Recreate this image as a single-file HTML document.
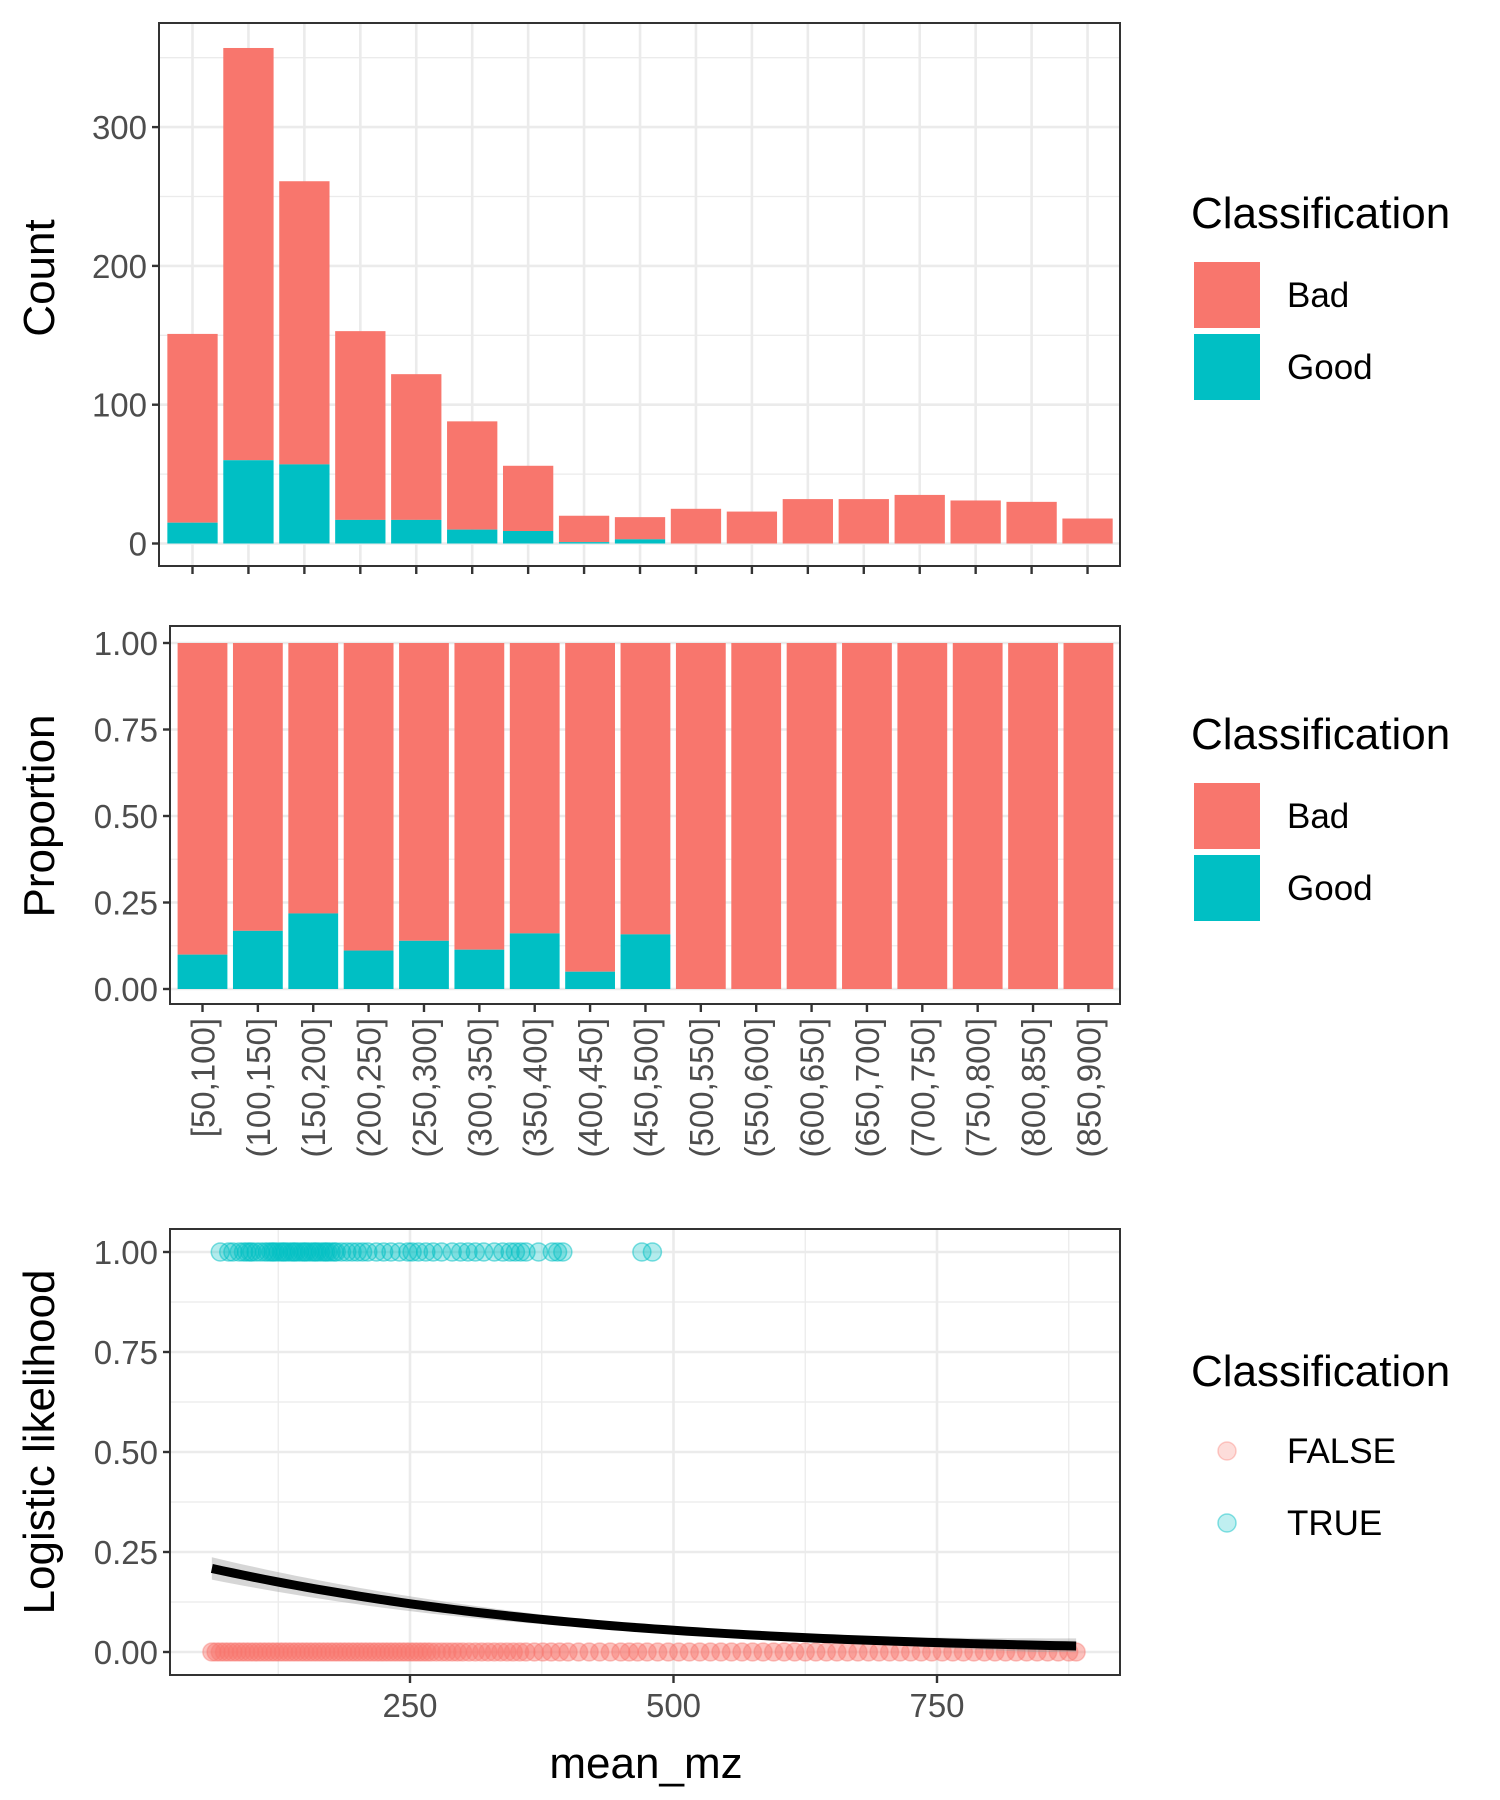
<!DOCTYPE html>
<html><head><meta charset="utf-8"><style>
html,body{margin:0;padding:0;background:#fff;}
svg{display:block;font-family:"Liberation Sans",sans-serif;}
</style></head><body>
<svg id="chart" width="1500" height="1800" viewBox="0 0 1500 1800"></svg>
<script>
const bins=["[50,100]","(100,150]","(150,200]","(200,250]","(250,300]","(300,350]","(350,400]","(400,450]","(450,500]","(500,550]","(550,600]","(600,650]","(650,700]","(700,750]","(750,800]","(800,850]","(850,900]"];
const totalCounts=[151,357,261,153,122,88,56,20,19,25,23,32,32,35,31,30,18];
const goodCounts=[15,60,57,17,17,10,9,1,3,0,0,0,0,0,0,0,0];
const countTicks=[0,100,200,300];
const propTicks=[0,0.25,0.5,0.75,1];
const propTickLabels=["0.00","0.25","0.50","0.75","1.00"];
const mzTicks=[250,500,750];
const trueX=[70,78,82,88,92,95,98,100,104,108,112,115,118,120,122,125,128,130,132,135,138,140,142,145,148,150,152,155,158,160,162,165,168,170,172,175,178,180,185,190,195,200,205,210,218,225,232,240,248,252,258,265,272,280,290,298,305,312,320,330,338,345,350,355,360,372,385,390,395,470,480];
const falseX=[62,66,70,74,78,82,86,90,94,98,102,106,110,114,118,122,126,130,134,138,142,146,150,154,158,162,166,170,174,178,182,186,190,194,198,202,206,210,214,218,222,226,230,234,238,242,246,250,254,258,262,266,270,275,280,285,290,295,300,306,312,318,324,330,336,342,348,354,360,368,376,384,392,400,410,420,430,440,450,458,466,475,485,495,505,515,525,535,545,555,565,575,585,595,605,615,625,635,645,655,665,675,685,695,705,715,725,735,745,755,765,775,785,795,805,815,825,835,845,855,865,875,882];
const coefA=-1.116, coefB=-0.00348;

const NS="http://www.w3.org/2000/svg";
const svg=document.getElementById('chart');
function el(tag,attrs,parent,text){const e=document.createElementNS(NS,tag);for(const k in attrs)e.setAttribute(k,attrs[k]);if(text!==undefined)e.textContent=text;(parent||svg).appendChild(e);return e;}
const RED="#F8766D",TEAL="#00BFC4",GRID="#EBEBEB",TXT="#4D4D4D";
const TF=33, TO=12;

// ===== Panel 1 =====
const p1={l:159,r:1120,t:23,b:566};
const xb1=i=>192.5+i*55.94;
const y1=v=>543.5-v*1.388;
let g=el('g',{},svg);
[50,150,250,350].forEach(v=>el('line',{x1:p1.l,x2:p1.r,y1:y1(v),y2:y1(v),stroke:GRID,'stroke-width':1.3},g));
countTicks.forEach(v=>el('line',{x1:p1.l,x2:p1.r,y1:y1(v),y2:y1(v),stroke:GRID,'stroke-width':2.6},g));
bins.forEach((b,i)=>el('line',{x1:xb1(i),x2:xb1(i),y1:p1.t,y2:p1.b,stroke:GRID,'stroke-width':2.6},g));
bins.forEach((b,i)=>{
  const w=50.3,x=xb1(i)-w/2;
  let r=el('rect',{x:x,y:y1(totalCounts[i]),width:w,height:y1(goodCounts[i])-y1(totalCounts[i]),fill:RED},g);
  
  if(goodCounts[i]>0){let r2=el('rect',{x:x,y:y1(goodCounts[i]),width:w,height:y1(0)-y1(goodCounts[i]),fill:TEAL},g);
  }
  el('line',{x1:xb1(i),x2:xb1(i),y1:p1.b,y2:p1.b+8,stroke:'#333','stroke-width':2.4},g);
});
el('rect',{x:p1.l,y:p1.t,width:p1.r-p1.l,height:p1.b-p1.t,fill:'none',stroke:'#333','stroke-width':2},g);
countTicks.forEach(v=>{el('line',{x1:p1.l-7,x2:p1.l,y1:y1(v),y2:y1(v),stroke:'#333','stroke-width':2.4},g);
  el('text',{x:p1.l-12,y:y1(v)+TO,'text-anchor':'end','font-size':TF,fill:TXT},g,String(v));});
let t=el('text',{x:0,y:0,transform:'translate(54,278) rotate(-90)','text-anchor':'middle','font-size':44,fill:'#000'},svg,'Count');


// ===== Panel 2 =====
const p2={l:170,r:1120,t:626,b:1004};
const xb2=i=>202.5+i*55.37;
const y2=v=>989-v*346;
g=el('g',{},svg);
[0.125,0.375,0.625,0.875].forEach(v=>el('line',{x1:p2.l,x2:p2.r,y1:y2(v),y2:y2(v),stroke:GRID,'stroke-width':1.3},g));
propTicks.forEach(v=>el('line',{x1:p2.l,x2:p2.r,y1:y2(v),y2:y2(v),stroke:GRID,'stroke-width':2.6},g));
bins.forEach((b,i)=>{
  const w=49.8,x=xb2(i)-w/2,p=goodCounts[i]/totalCounts[i];
  let r=el('rect',{x:x,y:y2(1),width:w,height:y2(p)-y2(1),fill:RED},g);
  
  if(p>0){let r2=el('rect',{x:x,y:y2(p),width:w,height:y2(0)-y2(p),fill:TEAL},g);
  }
  el('line',{x1:xb2(i),x2:xb2(i),y1:p2.b,y2:p2.b+8,stroke:'#333','stroke-width':2.4},g);
  let lt=el('text',{x:0,y:0,transform:`translate(${xb2(i)+12},1018) rotate(-90)`,'text-anchor':'end','font-size':TF,fill:TXT},g,b);
  
});
el('rect',{x:p2.l,y:p2.t,width:p2.r-p2.l,height:p2.b-p2.t,fill:'none',stroke:'#333','stroke-width':2},g);
propTicks.forEach((v,i)=>{el('line',{x1:p2.l-7,x2:p2.l,y1:y2(v),y2:y2(v),stroke:'#333','stroke-width':2.4},g);
  el('text',{x:p2.l-12,y:y2(v)+TO,'text-anchor':'end','font-size':TF,fill:TXT},g,propTickLabels[i]);});
t=el('text',{x:0,y:0,transform:'translate(54,816) rotate(-90)','text-anchor':'middle','font-size':44,fill:'#000'},svg,'Proportion');


// ===== Panel 3 =====
const p3={l:170,r:1120,t:1229,b:1675};
const x3=v=>146.5+v*1.054;
const y3=v=>1652-v*400;
g=el('g',{},svg);
[0.125,0.375,0.625,0.875].forEach(v=>el('line',{x1:p3.l,x2:p3.r,y1:y3(v),y2:y3(v),stroke:GRID,'stroke-width':1.3},g));
[125,375,625,875].forEach(v=>el('line',{x1:x3(v),x2:x3(v),y1:p3.t,y2:p3.b,stroke:GRID,'stroke-width':1.3},g));
propTicks.forEach(v=>el('line',{x1:p3.l,x2:p3.r,y1:y3(v),y2:y3(v),stroke:GRID,'stroke-width':2.6},g));
mzTicks.forEach(v=>el('line',{x1:x3(v),x2:x3(v),y1:p3.t,y2:p3.b,stroke:GRID,'stroke-width':2.6},g));
falseX.forEach(v=>{let c=el('circle',{cx:x3(v),cy:y3(0),r:9,fill:RED,'fill-opacity':0.45,stroke:RED,'stroke-opacity':0.4,'stroke-width':1.5},g);
  });
trueX.forEach(v=>{let c=el('circle',{cx:x3(v),cy:y3(1),r:9,fill:TEAL,'fill-opacity':0.3,stroke:TEAL,'stroke-opacity':0.5,'stroke-width':1.5},g);
  });
const fitP=v=>1/(1+Math.exp(-(coefA+coefB*v)));
let up=[],lo=[],ln=[];
for(let v=62;v<=882;v+=10){const p=fitP(v),se=0.025*Math.abs(v-560)/500+0.003;
  ln.push(`${x3(v)},${y3(p)}`);up.push(`${x3(v)},${y3(p+se)}`);lo.unshift(`${x3(v)},${y3(Math.max(p-se,0))}`);}
let band=el('polygon',{points:up.concat(lo).join(' '),fill:'#999','fill-opacity':0.4},g);

let fl=el('polyline',{points:ln.join(' '),fill:'none',stroke:'#000','stroke-width':9},g);

el('rect',{x:p3.l,y:p3.t,width:p3.r-p3.l,height:p3.b-p3.t,fill:'none',stroke:'#333','stroke-width':2},g);
propTicks.forEach((v,i)=>{el('line',{x1:p3.l-7,x2:p3.l,y1:y3(v),y2:y3(v),stroke:'#333','stroke-width':2.4},g);
  el('text',{x:p3.l-12,y:y3(v)+TO,'text-anchor':'end','font-size':TF,fill:TXT},g,propTickLabels[i]);});
mzTicks.forEach(v=>{el('line',{x1:x3(v),x2:x3(v),y1:p3.b,y2:p3.b+8,stroke:'#333','stroke-width':2.4},g);
  el('text',{x:x3(v),y:p3.b+42,'text-anchor':'middle','font-size':TF,fill:TXT},g,String(v));});
t=el('text',{x:0,y:0,transform:'translate(54,1442) rotate(-90)','text-anchor':'middle','font-size':44,fill:'#000'},svg,'Logistic likelihood');

t=el('text',{x:646,y:1778,'text-anchor':'middle','font-size':44,fill:'#000'},svg,'mean_mz');


// ===== Legends =====
function barLegend(top,name){
  const lg=el('g',{},svg);
  el('text',{x:1191,y:top,'font-size':44,fill:'#000'},lg,'Classification');
  el('rect',{x:1194,y:top+34,width:66,height:66,fill:RED},lg);
  el('text',{x:1287,y:top+79,'font-size':35,fill:'#000'},lg,'Bad');
  el('rect',{x:1194,y:top+106,width:66,height:66,fill:TEAL},lg);
  el('text',{x:1287,y:top+151,'font-size':35,fill:'#000'},lg,'Good');
}
barLegend(228,'count-legend');
barLegend(749,'proportion-legend');
const lg3=el('g',{},svg);
el('text',{x:1191,y:1386,'font-size':44,fill:'#000'},lg3,'Classification');
el('circle',{cx:1227,cy:1451,r:9,fill:RED,'fill-opacity':0.25,stroke:RED,'stroke-opacity':0.35,'stroke-width':1.5},lg3);
el('text',{x:1287,y:1463,'font-size':35,fill:'#000'},lg3,'FALSE');
el('circle',{cx:1227,cy:1523,r:9,fill:TEAL,'fill-opacity':0.25,stroke:TEAL,'stroke-opacity':0.45,'stroke-width':1.5},lg3);
el('text',{x:1287,y:1535,'font-size':35,fill:'#000'},lg3,'TRUE');
</script>
</body></html>
